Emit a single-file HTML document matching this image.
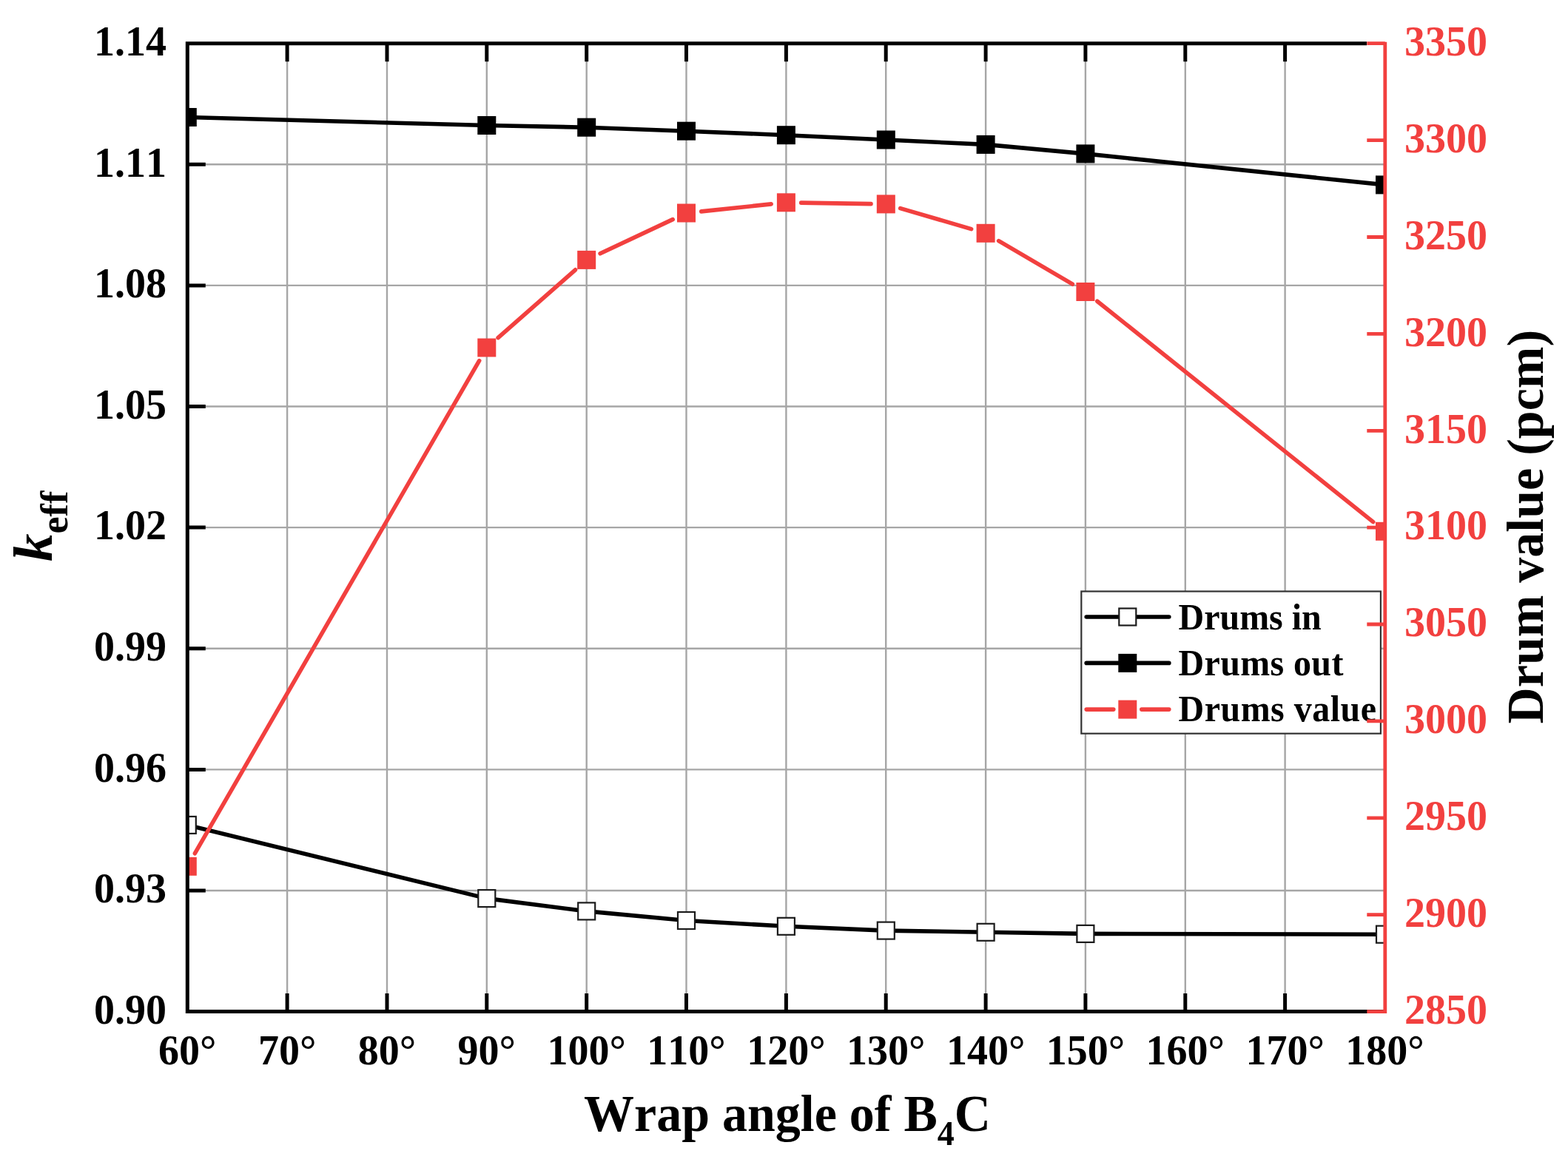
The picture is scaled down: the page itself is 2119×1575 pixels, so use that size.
<!DOCTYPE html>
<html><head><meta charset="utf-8"><title>keff vs wrap angle</title>
<style>html,body{margin:0;padding:0;background:#fff;}svg{display:block;}text{font-family:"Liberation Serif","Times New Roman",serif;font-weight:bold;font-kerning:none;}</style></head><body>
<svg width="2119" height="1575" viewBox="0 0 2119 1575">
<rect width="2119" height="1575" fill="#fff"/>
<defs><clipPath id="pc"><rect x="253.3" y="58.7" width="1618.2" height="1308.8999999999999"/></clipPath></defs>
<path d="M388.1 58.7V1367.6M523.0 58.7V1367.6M657.8 58.7V1367.6M792.7 58.7V1367.6M927.5 58.7V1367.6M1062.4 58.7V1367.6M1197.2 58.7V1367.6M1332.1 58.7V1367.6M1466.9 58.7V1367.6M1601.8 58.7V1367.6M1736.6 58.7V1367.6M253.3 222.3H1871.5M253.3 385.9H1871.5M253.3 549.5H1871.5M253.3 713.1H1871.5M253.3 876.8H1871.5M253.3 1040.4H1871.5M253.3 1204.0H1871.5" stroke="#a6a6a6" stroke-width="2.4" fill="none"/>
<g clip-path="url(#pc)">
<polyline points="253.3,1115.4 657.8,1214.6 792.7,1231.9 927.5,1244.5 1062.4,1252.3 1197.2,1258.1 1332.1,1260.3 1466.9,1262.4 1871.5,1263.2" fill="none" stroke="#000" stroke-width="5.6" stroke-linejoin="round" stroke-linecap="round"/>
<polyline points="253.3,158.5 657.8,169.5 792.7,172.2 927.5,177.2 1062.4,182.7 1197.2,189.0 1332.1,195.4 1466.9,207.9 1871.5,249.9" fill="none" stroke="#000" stroke-width="5.6" stroke-linejoin="round" stroke-linecap="round"/>
<path d="M263.4 1153.7L647.7 487.6M673.1 456.6L777.5 364.8M811.1 342.8L909.2 296.6M947.7 285.9L1042.2 275.9M1082.7 274.1L1177.0 275.6M1216.7 281.6L1312.6 309.6M1349.6 325.6L1449.4 384.2M1482.8 407.2L1855.7 705.6" fill="none" stroke="#f2403f" stroke-width="5.6" stroke-linecap="round"/>
<rect x="241.8" y="1103.9" width="23.0" height="23.0" fill="#fff" stroke="#1c1c1c" stroke-width="2.2"/>
<rect x="646.3" y="1203.1" width="23.0" height="23.0" fill="#fff" stroke="#1c1c1c" stroke-width="2.2"/>
<rect x="781.2" y="1220.4" width="23.0" height="23.0" fill="#fff" stroke="#1c1c1c" stroke-width="2.2"/>
<rect x="916.0" y="1233.0" width="23.0" height="23.0" fill="#fff" stroke="#1c1c1c" stroke-width="2.2"/>
<rect x="1050.9" y="1240.8" width="23.0" height="23.0" fill="#fff" stroke="#1c1c1c" stroke-width="2.2"/>
<rect x="1185.8" y="1246.6" width="23.0" height="23.0" fill="#fff" stroke="#1c1c1c" stroke-width="2.2"/>
<rect x="1320.6" y="1248.8" width="23.0" height="23.0" fill="#fff" stroke="#1c1c1c" stroke-width="2.2"/>
<rect x="1455.4" y="1250.9" width="23.0" height="23.0" fill="#fff" stroke="#1c1c1c" stroke-width="2.2"/>
<rect x="1860.0" y="1251.7" width="23.0" height="23.0" fill="#fff" stroke="#1c1c1c" stroke-width="2.2"/>
<rect x="240.8" y="146.0" width="25.0" height="25.0" fill="#000"/>
<rect x="645.3" y="157.0" width="25.0" height="25.0" fill="#000"/>
<rect x="780.2" y="159.7" width="25.0" height="25.0" fill="#000"/>
<rect x="915.0" y="164.7" width="25.0" height="25.0" fill="#000"/>
<rect x="1049.9" y="170.2" width="25.0" height="25.0" fill="#000"/>
<rect x="1184.8" y="176.5" width="25.0" height="25.0" fill="#000"/>
<rect x="1319.6" y="182.9" width="25.0" height="25.0" fill="#000"/>
<rect x="1454.4" y="195.4" width="25.0" height="25.0" fill="#000"/>
<rect x="1859.0" y="237.4" width="25.0" height="25.0" fill="#000"/>
<rect x="240.8" y="1158.8" width="25.0" height="25.0" fill="#f2403f"/>
<rect x="645.3" y="457.5" width="25.0" height="25.0" fill="#f2403f"/>
<rect x="780.2" y="338.9" width="25.0" height="25.0" fill="#f2403f"/>
<rect x="915.0" y="275.5" width="25.0" height="25.0" fill="#f2403f"/>
<rect x="1049.9" y="261.3" width="25.0" height="25.0" fill="#f2403f"/>
<rect x="1184.8" y="263.4" width="25.0" height="25.0" fill="#f2403f"/>
<rect x="1319.6" y="302.8" width="25.0" height="25.0" fill="#f2403f"/>
<rect x="1454.4" y="382.0" width="25.0" height="25.0" fill="#f2403f"/>
<rect x="1859.0" y="705.8" width="25.0" height="25.0" fill="#f2403f"/>
</g>
<rect x="1461.3" y="799.5" width="404.6" height="192.2" fill="#fff" stroke="#333" stroke-width="2.2"/>
<path d="M1468.2 834.0H1579.8" stroke="#000" stroke-width="5.6" stroke-linecap="round"/>
<rect x="1512.3" y="822.5" width="23.0" height="23.0" fill="#fff" stroke="#1c1c1c" stroke-width="2.2"/>
<path d="M1468.2 896.4H1579.8" stroke="#000" stroke-width="5.6" stroke-linecap="round"/>
<rect x="1511.3" y="883.9" width="25.0" height="25.0" fill="#000"/>
<path d="M1468.2 959.1H1504.8M1542.8 959.1H1579.8" stroke="#f2403f" stroke-width="5.6" stroke-linecap="round" fill="none"/>
<rect x="1511.3" y="946.6" width="25.0" height="25.0" fill="#f2403f"/>
<text transform="translate(1592.5,850.6) scale(1,1.045)" font-size="48" letter-spacing="0">Drums in</text>
<text transform="translate(1592.5,912.9) scale(1,1.045)" font-size="48" letter-spacing="0.37">Drums out</text>
<text transform="translate(1592.5,975.4) scale(1,1.045)" font-size="48" letter-spacing="0.5">Drums value</text>
<path d="M253.3 56.2V1370.1M250.8 1367.6H1871.5M250.8 58.7H1847.0M253.3 58.7H277.8M253.3 222.3H277.8M253.3 385.9H277.8M253.3 549.5H277.8M253.3 713.1H277.8M253.3 876.8H277.8M253.3 1040.4H277.8M253.3 1204.0H277.8M253.3 1367.6H277.8M388.1 1367.6V1343.1M388.1 58.7V83.2M523.0 1367.6V1343.1M523.0 58.7V83.2M657.8 1367.6V1343.1M657.8 58.7V83.2M792.7 1367.6V1343.1M792.7 58.7V83.2M927.5 1367.6V1343.1M927.5 58.7V83.2M1062.4 1367.6V1343.1M1062.4 58.7V83.2M1197.2 1367.6V1343.1M1197.2 58.7V83.2M1332.1 1367.6V1343.1M1332.1 58.7V83.2M1466.9 1367.6V1343.1M1466.9 58.7V83.2M1601.8 1367.6V1343.1M1601.8 58.7V83.2M1736.6 1367.6V1343.1M1736.6 58.7V83.2" stroke="#000" stroke-width="5" fill="none"/>
<path d="M1871.8 56.7V1370.1M1871.8 58.7H1847.3M1871.8 189.6H1847.3M1871.8 320.5H1847.3M1871.8 451.4H1847.3M1871.8 582.3H1847.3M1871.8 713.1H1847.3M1871.8 844.0H1847.3M1871.8 974.9H1847.3M1871.8 1105.8H1847.3M1871.8 1236.7H1847.3M1871.8 1367.6H1847.3" stroke="#f2403f" stroke-width="4.8" fill="none"/>
<text x="225" y="75.0" font-size="56" text-anchor="end">1.14</text>
<text x="225" y="238.6" font-size="56" text-anchor="end">1.11</text>
<text x="225" y="402.2" font-size="56" text-anchor="end">1.08</text>
<text x="225" y="565.8" font-size="56" text-anchor="end">1.05</text>
<text x="225" y="729.4" font-size="56" text-anchor="end">1.02</text>
<text x="225" y="893.1" font-size="56" text-anchor="end">0.99</text>
<text x="225" y="1056.7" font-size="56" text-anchor="end">0.96</text>
<text x="225" y="1220.3" font-size="56" text-anchor="end">0.93</text>
<text x="225" y="1383.9" font-size="56" text-anchor="end">0.90</text>
<text x="253.3" y="1439" font-size="56" text-anchor="middle">60°</text>
<text x="388.1" y="1439" font-size="56" text-anchor="middle">70°</text>
<text x="523.0" y="1439" font-size="56" text-anchor="middle">80°</text>
<text x="657.8" y="1439" font-size="56" text-anchor="middle">90°</text>
<text x="792.7" y="1439" font-size="56" text-anchor="middle">100°</text>
<text x="927.5" y="1439" font-size="56" text-anchor="middle">110°</text>
<text x="1062.4" y="1439" font-size="56" text-anchor="middle">120°</text>
<text x="1197.2" y="1439" font-size="56" text-anchor="middle">130°</text>
<text x="1332.1" y="1439" font-size="56" text-anchor="middle">140°</text>
<text x="1466.9" y="1439" font-size="56" text-anchor="middle">150°</text>
<text x="1601.8" y="1439" font-size="56" text-anchor="middle">160°</text>
<text x="1736.6" y="1439" font-size="56" text-anchor="middle">170°</text>
<text x="1871.5" y="1439" font-size="56" text-anchor="middle">180°</text>
<text x="1898" y="75.0" font-size="56" fill="#f2403f">3350</text>
<text x="1898" y="205.9" font-size="56" fill="#f2403f">3300</text>
<text x="1898" y="336.8" font-size="56" fill="#f2403f">3250</text>
<text x="1898" y="467.7" font-size="56" fill="#f2403f">3200</text>
<text x="1898" y="598.6" font-size="56" fill="#f2403f">3150</text>
<text x="1898" y="729.4" font-size="56" fill="#f2403f">3100</text>
<text x="1898" y="860.3" font-size="56" fill="#f2403f">3050</text>
<text x="1898" y="991.2" font-size="56" fill="#f2403f">3000</text>
<text x="1898" y="1122.1" font-size="56" fill="#f2403f">2950</text>
<text x="1898" y="1253.0" font-size="56" fill="#f2403f">2900</text>
<text x="1898" y="1383.9" font-size="56" fill="#f2403f">2850</text>
<text transform="translate(789,1529) scale(1,1.016)" font-size="68">Wrap angle of B<tspan font-size="46" dy="18.3">4</tspan><tspan dy="-18.3">C</tspan></text>
<text transform="translate(69.6,759) rotate(-90)" font-size="75"><tspan font-style="italic">k</tspan><tspan font-size="52" dy="21">eff</tspan></text>
<text transform="translate(2084.6,978.4) rotate(-90) scale(1,1.034)" font-size="68">Drum value (pcm)</text>
</svg>
</body></html>
